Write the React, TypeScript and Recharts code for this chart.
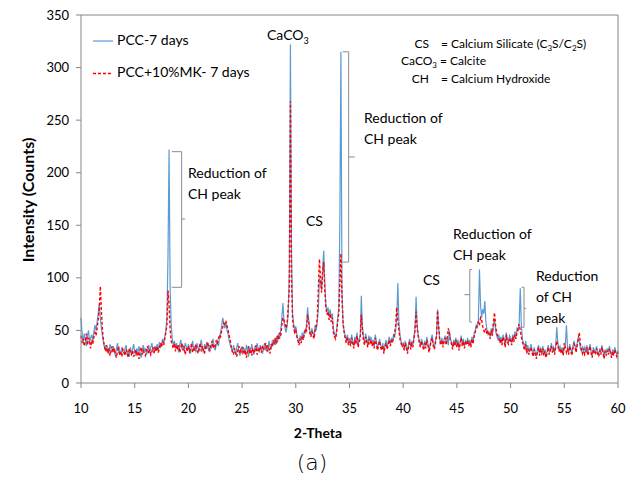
import React from 'react';
import { LineChart, Line, XAxis, YAxis, ReferenceLine } from 'recharts';

// scan grid: 10° to 60° 2-theta, 0.1° step
const thetaStart = 10;
const thetaStep = 0.1;

// PCC-7 days (one row per degree)
const pcc7 = [
  62, 48, 38, 47, 41, 35, 45, 50, 39, 43,
  46, 40, 49, 55, 50, 58, 66, 75, 62, 52,
  45, 38, 33, 36, 30, 34, 28, 37, 32, 29,
  35, 30, 26, 33, 38, 29, 31, 27, 34, 30,
  28, 33, 36, 27, 31, 25, 34, 29, 32, 37,
  30, 26, 33, 29, 35, 28, 24, 31, 36, 30,
  33, 27, 30, 36, 29, 34, 38, 31, 28, 35,
  32, 37, 30, 39, 34, 36, 42, 38, 44, 50,
  62, 120, 222, 90, 55, 42, 36, 40, 33, 38,
  34, 29, 37, 41, 32, 36, 30, 38, 35, 31,
  37, 33, 28, 36, 40, 31, 35, 29, 38, 34,
  30, 36, 41, 33, 29, 37, 32, 39, 35, 30,
  36, 32, 38, 42, 34, 31, 37, 40, 35, 44,
  48, 55, 62, 56, 52, 58, 50, 46, 40, 36,
  33, 29, 36, 31, 27, 34, 38, 30, 26, 32,
  35, 29, 33, 28, 36, 31, 25, 34, 30, 37,
  31, 27, 35, 30, 38, 33, 29, 36, 32, 28,
  34, 38, 31, 36, 29, 40, 35, 32, 39, 37,
  41, 36, 44, 39, 47, 42, 50, 62, 76, 58,
  52, 48, 55, 66, 110, 322, 125, 66, 57, 50,
  54, 46, 42, 38, 45, 40, 48, 43, 50, 47,
  56, 72, 60, 50, 46, 52, 48, 44, 55, 50,
  58, 70, 100, 95, 90, 110, 126, 96, 74, 68,
  72, 64, 70, 62, 66, 52, 46, 44, 50, 62,
  70, 150, 315, 90, 55, 50, 45, 41, 46, 38,
  43, 37, 46, 40, 35, 44, 39, 48, 36, 42,
  45, 83, 55, 44, 38, 47, 42, 36, 45, 40,
  44, 38, 41, 35, 46, 40, 33, 37, 42, 36,
  33, 38, 30, 36, 41, 34, 39, 44, 37, 42,
  40, 46, 43, 50, 62, 95, 58, 46, 40, 36,
  38, 33, 40, 35, 30, 37, 42, 34, 39, 36,
  44, 52, 82, 55, 46, 40, 36, 42, 38, 33,
  40, 35, 44, 38, 31, 36, 42, 46, 37, 34,
  40, 45, 70, 52, 42, 38, 43, 36, 41, 45,
  38, 44, 36, 50, 42, 39, 34, 41, 37, 43,
  36, 41, 33, 39, 45, 37, 42, 35, 40, 38,
  43, 37, 41, 36, 44, 39, 47, 50, 55, 52,
  60, 108, 75, 62, 70, 66, 78, 58, 50, 46,
  48, 44, 52, 47, 55, 60, 50, 45, 42, 46,
  40, 44, 38, 46, 42, 36, 48, 41, 39, 45,
  43, 38, 46, 41, 49, 44, 52, 50, 58, 90,
  55, 42, 38, 34, 40, 31, 36, 29, 33, 37,
  31, 27, 34, 29, 25, 32, 36, 28, 33, 30,
  35, 28, 32, 26, 30, 36, 29, 33, 38, 31,
  34, 29, 36, 53, 38, 32, 35, 30, 34, 28,
  33, 36, 55, 34, 29, 37, 33, 28, 35, 40,
  36, 31, 38, 44, 39, 33, 30, 35, 29, 34,
  31, 36, 28, 33, 37, 30, 26, 34, 31, 29,
  35, 30, 27, 33, 29, 36, 31, 25, 32, 28,
  33, 29, 35, 30, 26, 32, 28, 34, 30, 27,
  31,
];

// PCC+10%MK- 7 days
const pccMk7 = [
  45, 38, 42, 35, 40, 47, 36, 43, 39, 33,
  41, 37, 44, 48, 45, 52, 60, 70, 92, 68,
  50, 40, 34, 30, 36, 28, 33, 26, 31, 35,
  29, 33, 27, 24, 31, 35, 28, 30, 25, 32,
  30, 26, 32, 28, 24, 33, 29, 27, 31, 25,
  28, 32, 26, 30, 23, 29, 34, 27, 31, 28,
  26, 31, 35, 28, 32, 27, 30, 34, 29, 33,
  30, 35, 29, 33, 38, 34, 40, 36, 42, 48,
  55, 88, 75, 50, 40, 36, 33, 38, 30, 36,
  32, 36, 29, 34, 38, 31, 35, 27, 33, 30,
  35, 30, 33, 38, 29, 34, 31, 37, 32, 28,
  33, 38, 30, 35, 31, 28, 36, 33, 39, 34,
  31, 36, 40, 33, 37, 35, 41, 38, 42, 46,
  44, 50, 53, 57, 55, 58, 54, 50, 45, 40,
  34, 30, 27, 33, 29, 25, 31, 35, 28, 32,
  29, 34, 27, 31, 24, 30, 35, 28, 32, 26,
  33, 28, 31, 36, 27, 32, 30, 35, 29, 34,
  31, 35, 38, 30, 36, 33, 28, 37, 34, 40,
  38, 43, 37, 46, 41, 48, 45, 55, 62, 60,
  56, 52, 58, 74, 90, 268, 100, 60, 52, 48,
  50, 44, 40, 36, 42, 38, 45, 41, 47, 52,
  50, 65, 58, 48, 44, 49, 45, 42, 50, 54,
  62, 90, 118, 100, 86, 104, 115, 88, 72, 65,
  68, 60, 66, 58, 62, 48, 44, 42, 48, 58,
  66, 95, 123, 80, 58, 48, 42, 38, 44, 36,
  40, 35, 43, 38, 33, 41, 37, 45, 34, 39,
  42, 65, 50, 41, 36, 44, 39, 34, 42, 38,
  41, 35, 39, 33, 43, 37, 31, 35, 40, 34,
  31, 36, 28, 34, 38, 32, 36, 41, 35, 40,
  38, 43, 48, 55, 72, 60, 50, 42, 38, 34,
  36, 31, 38, 33, 28, 35, 40, 32, 37, 34,
  42, 50, 68, 52, 44, 38, 34, 40, 36, 31,
  38, 33, 41, 36, 29, 34, 40, 43, 35, 32,
  38, 44, 69, 55, 40, 36, 41, 34, 39, 43,
  36, 42, 52, 47, 40, 37, 32, 39, 35, 41,
  34, 39, 31, 37, 43, 35, 40, 33, 38, 36,
  41, 35, 39, 34, 42, 37, 44, 48, 52, 56,
  58, 55, 62, 60, 54, 50, 48, 52, 46, 50,
  46, 42, 50, 45, 58, 67, 55, 48, 44, 42,
  38, 42, 36, 44, 40, 34, 46, 39, 37, 43,
  40, 36, 44, 39, 46, 42, 48, 52, 56, 50,
  44, 39, 35, 31, 37, 28, 33, 27, 31, 34,
  29, 25, 32, 27, 23, 30, 34, 26, 31, 28,
  33, 26, 30, 24, 28, 34, 27, 31, 35, 29,
  32, 27, 34, 40, 36, 30, 33, 28, 32, 26,
  38, 34, 29, 32, 27, 35, 31, 26, 33, 37,
  34, 29, 36, 42, 48, 37, 31, 28, 33, 27,
  29, 34, 26, 31, 35, 28, 24, 32, 29, 27,
  33, 28, 25, 31, 27, 34, 29, 23, 30, 26,
  31, 27, 33, 28, 24, 30, 26, 32, 28, 25,
  29,
];

const xTicks = [10, 15, 20, 25, 30, 35, 40, 45, 50, 55, 60];
const yTicks = [0, 50, 100, 150, 200, 250, 300, 350];

// "Reduction of CH peak" brackets: [x of spine, serif end, tick end, top, bottom, mid]
const brackets = [
  [19.37, 18.45, 19.7, 220, 91, 156],
  [34.92, 34.37, 35.5, 315, 115, 215],
  [46.2, 46.4, 45.7, 108, 58, 84],
  [51.25, 51.03, 51.45, 91, 53, 71],
];

const data = pcc7.map((v, i) => ({
  theta: +(thetaStart + i * thetaStep).toFixed(1),
  pcc: v,
  mk: pccMk7[i],
}));

const axisGrey = '#868686';
const font = 'Lato, "Open Sans", sans-serif';

const Txt: React.FC<{ x: number; y: number; size?: number; bold?: boolean; lh?: number; children: React.ReactNode }> = ({ x, y, size = 14, bold, lh, children }) => (
  <div style={{ position: 'absolute', left: x, top: y, fontSize: size, fontWeight: bold ? 700 : 400, lineHeight: lh ? lh + 'px' : '1.2', whiteSpace: 'nowrap', color: '#000' }}>
    {children}
  </div>
);

// key label, right edge at x
const KeyLabel: React.FC<{ right: number; y: number; children: React.ReactNode }> = ({ right, y, children }) => (
  <div style={{ position: 'absolute', right: 636 - right, top: y, fontSize: 12, lineHeight: '1.2', whiteSpace: 'nowrap', textAlign: 'right' }}>
    {children}
  </div>
);

const sub = { fontSize: 8 };

export default function App() {
  return (
    <div style={{ position: 'absolute', left: 0, top: 0, width: 636, height: 478, background: '#fff', fontFamily: font }}>
      <LineChart width={636} height={478} data={data} margin={{ top: 15, right: 18, bottom: 65, left: 0 }}>
        <XAxis
          dataKey="theta"
          type="number"
          domain={[10, 60]}
          ticks={xTicks}
          height={30}
          stroke={axisGrey}
          tickSize={5}
          tickMargin={16}
          tick={{ fill: '#000', fontSize: 13, fontFamily: font }}
        />
        <YAxis
          type="number"
          domain={[0, 350]}
          ticks={yTicks}
          width={81}
          stroke={axisGrey}
          tickSize={5}
          tickMargin={7}
          tick={{ fill: '#000', fontSize: 13, fontFamily: font }}
        />
        <ReferenceLine y={350} stroke={axisGrey} />
        <ReferenceLine x={60} stroke={axisGrey} />
        <Line type="linear" dataKey="pcc" stroke="#5b9bd5" strokeWidth={1.2} dot={false} isAnimationActive={false} />
        <Line type="linear" dataKey="mk" stroke="#ff0000" strokeWidth={1.4} strokeDasharray="3 2" dot={false} isAnimationActive={false} />
        {brackets.map((b, i) => (
          <ReferenceLine key={'s' + i} segment={[{ x: b[0], y: b[3] }, { x: b[0], y: b[4] }]} stroke="#8c8c8c" />
        ))}
        {brackets.map((b, i) => (
          <ReferenceLine key={'t' + i} segment={[{ x: b[1], y: b[3] }, { x: b[0], y: b[3] }]} stroke="#8c8c8c" />
        ))}
        {brackets.map((b, i) => (
          <ReferenceLine key={'b' + i} segment={[{ x: b[1], y: b[4] }, { x: b[0], y: b[4] }]} stroke="#8c8c8c" />
        ))}
        {brackets.map((b, i) => (
          <ReferenceLine key={'m' + i} segment={[{ x: b[0], y: b[5] }, { x: b[2], y: b[5] }]} stroke="#8c8c8c" />
        ))}
      </LineChart>

      {/* legend */}
      <div style={{ position: 'absolute', left: 93, top: 40, width: 20, height: 2, background: '#9dc3e6' }} />
      <Txt x={117} y={32}>PCC-7 days</Txt>
      <svg style={{ position: 'absolute', left: 93, top: 72 }} width={20} height={3}>
        <line x1={0} y1={1.5} x2={20} y2={1.5} stroke="#ff0000" strokeWidth={1.5} strokeDasharray="3 2" />
      </svg>
      <Txt x={117} y={64}>PCC+10%MK- 7 days</Txt>

      {/* key */}
      <KeyLabel right={429} y={37}>CS</KeyLabel>
      <Txt x={441} y={37} size={12}>= Calcium Silicate (C<sub style={sub}>3</sub>S/C<sub style={sub}>2</sub>S)</Txt>
      <KeyLabel right={437} y={54}>CaCO<sub style={sub}>3</sub></KeyLabel>
      <Txt x={440} y={54} size={12}>= Calcite</Txt>
      <KeyLabel right={429} y={72}>CH</KeyLabel>
      <Txt x={441} y={72} size={12}>= Calcium Hydroxide</Txt>

      {/* peak labels */}
      <Txt x={267} y={27}>CaCO<sub style={{ fontSize: 9 }}>3</sub></Txt>
      <Txt x={306} y={213}>CS</Txt>
      <Txt x={423} y={272}>CS</Txt>
      <Txt x={188} y={162} lh={21}>Reduction of<br />CH peak</Txt>
      <Txt x={364} y={107} lh={21}>Reduction of<br />CH peak</Txt>
      <Txt x={453} y={223} lh={21}>Reduction of<br />CH peak</Txt>
      <Txt x={536} y={265} lh={21}>Reduction<br />of CH<br />peak</Txt>

      {/* axis titles */}
      <div style={{ position: 'absolute', left: 27, top: 200, transform: 'translate(-50%, -50%) rotate(-90deg)', fontSize: 16, fontWeight: 700, whiteSpace: 'nowrap' }}>
        Intensity (Counts)
      </div>
      <div style={{ position: 'absolute', left: 318, top: 432, transform: 'translate(-50%, -50%)', fontSize: 14, fontWeight: 700, whiteSpace: 'nowrap' }}>
        2-Theta
      </div>
      <div style={{ position: 'absolute', left: 312, top: 462, transform: 'translate(-50%, -50%)', fontSize: 22, fontFamily: '"DejaVu Sans", sans-serif', fontWeight: 300, whiteSpace: 'nowrap' }}>
        (a)
      </div>
    </div>
  );
}
